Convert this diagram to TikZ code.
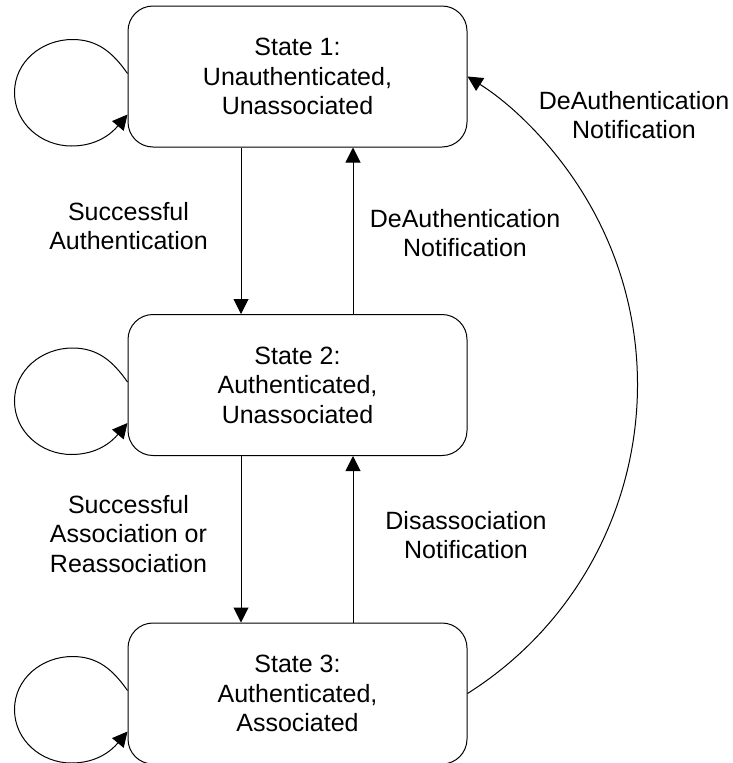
\documentclass[tikz,border=0pt]{standalone}
\usepackage{fontspec}
\setmainfont{Liberation Sans}
\usetikzlibrary{arrows.meta}
\begin{document}
\begin{tikzpicture}[x=1pt,y=1pt,
  state/.style={draw, line width=1pt, rounded corners=25pt, minimum width=339pt, minimum height=141pt, align=center, font=\fontsize{25}{29.5}\selectfont, inner sep=0pt},
  lbl/.style={align=center, font=\fontsize{25}{29.5}\selectfont, inner sep=0pt},
  conn/.style={line width=1pt, -{Triangle[length=15pt,width=15pt]}},
]
\useasboundingbox (0,0) rectangle (732,-763);
\node[state] (s1) at (297.5,-76.5) {State 1:\\Unauthenticated,\\Unassociated};
\node[state] (s2) at (297.5,-385) {State 2:\\Authenticated,\\Unassociated};
\node[state] (s3) at (297.5,-693.5) {State 3:\\Authenticated,\\Associated};

\draw[conn] ([xshift=-56.5pt]s1.south) -- ([xshift=-56.5pt]s2.north);
\draw[conn] ([xshift=55.5pt]s2.north) -- ([xshift=55.5pt]s1.south);
\draw[conn] ([xshift=-56.5pt]s2.south) -- ([xshift=-56.5pt]s3.north);
\draw[conn] ([xshift=55.5pt]s3.north) -- ([xshift=55.5pt]s2.south);

\draw[conn] (s3.east) arc[start angle=-57.7, end angle=57.7, radius=365pt];

\foreach \s in {s1,s2,s3}{
  \draw[conn] ([yshift=3pt]\s.west) to[out=125,in=0] ++(-55,34) to[out=180,in=90] ++(-58,-53) to[out=-90,in=180] ++(57,-53.5) to[out=0,in=230] ([yshift=-38pt]\s.west);
}

\node[lbl] (l1) at (128.5,-226) {Successful\\Authentication};
\node[lbl] (l2) at (465,-233) {DeAuthentication\\Notification};
\node[lbl] (l3) at (634,-115) {DeAuthentication\\Notification};
\node[lbl] (l4) at (128.5,-534) {Successful\\Association or\\Reassociation};
\node[lbl] (l5) at (466,-535) {Disassociation\\Notification};
\end{tikzpicture}
\end{document}
